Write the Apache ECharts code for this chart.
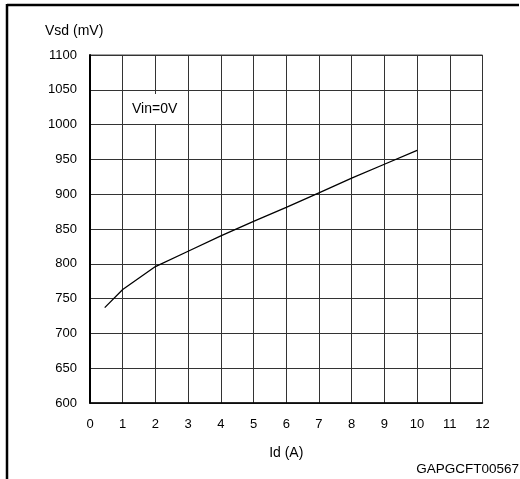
<!DOCTYPE html>
<html>
<head>
<meta charset="utf-8">
<script src="https://cdn.jsdelivr.net/npm/echarts@6/dist/echarts.min.js"></script>
<style>
html,body{margin:0;padding:0;background:#fff;}
#c{width:520px;height:479px;}
</style>
</head>
<body>
<div id="c"></div>
<script>
// Data
var idA = [0.45, 1, 2, 3, 4, 5, 6, 7, 8, 9, 10];
var vsdMv = [737, 763, 796, 818, 840, 861, 881, 902, 923, 943, 963];
var xTitle = 'Id (A)';
var yTitle = 'Vsd (mV)';
var noteText = 'Vin=0V';
var codeText = 'GAPGCFT00567';

var FONT = '"Liberation Sans", Arial, sans-serif';
var chart = echarts.init(document.getElementById('c'), null, {renderer: 'canvas'});
var pts = idA.map(function (x, i) { return [x, vsdMv[i]]; });

chart.setOption({
  animation: false,
  backgroundColor: '#fff',
  grid: {left: 90, top: 55, right: 37.5, bottom: 76, show: true, borderColor: '#444', borderWidth: 1},
  xAxis: {
    type: 'value', min: 0, max: 12, interval: 1,
    name: xTitle, nameLocation: 'middle', nameGap: 43,
    nameTextStyle: {fontFamily: FONT, fontSize: 14, color: '#000'},
    axisLine: {show: true, onZero: false, lineStyle: {color: '#000', width: 1.5}},
    axisTick: {show: false},
    axisLabel: {fontFamily: FONT, fontSize: 13, color: '#000', margin: 15},
    splitLine: {show: true, lineStyle: {color: '#333', width: 1}}
  },
  yAxis: {
    type: 'value', min: 600, max: 1100, interval: 50,
    axisLine: {show: true, onZero: false, lineStyle: {color: '#000', width: 2}},
    axisTick: {show: false},
    axisLabel: {fontFamily: FONT, fontSize: 13, color: '#000', margin: 13,
      formatter: function (v) { return String(v); }},
    splitLine: {show: true, lineStyle: {color: '#333', width: 1}}
  },
  series: [{
    type: 'line', data: pts, showSymbol: false, smooth: false,
    lineStyle: {color: '#000', width: 1.3}, z: 5
  }],
  graphic: [
    {type: 'line', shape: {x1: 7, y1: 5, x2: 519, y2: 5}, style: {stroke: '#000', lineWidth: 2.5}},
    {type: 'line', shape: {x1: 7, y1: 4, x2: 7, y2: 479}, style: {stroke: '#000', lineWidth: 2.5}},
    {type: 'text', left: 45, top: 24, style: {text: yTitle, font: '14px ' + FONT, fill: '#000'}},
    {type: 'text', right: 1, top: 462, style: {text: codeText, font: '13.5px ' + FONT, fill: '#000'}},
    {type: 'rect', shape: {x: 126, y: 94, width: 60, height: 30}, style: {fill: '#fff'}, z: 10},
    {type: 'text', left: 132, top: 102, z: 11, style: {text: noteText, font: '14px ' + FONT, fill: '#000'}}
  ]
});
</script>
</body>
</html>
